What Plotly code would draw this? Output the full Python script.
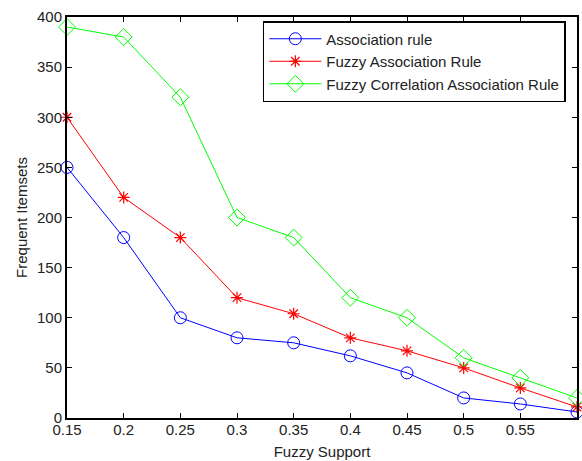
import plotly.graph_objects as go

support = [0.15, 0.2, 0.25, 0.3, 0.35, 0.4, 0.45, 0.5, 0.55, 0.6]
assoc_rule = [250, 180, 100, 80, 75, 62, 45, 20, 14, 6]
fuzzy_assoc = [300, 220, 180, 120, 104, 80, 67, 50, 30, 11]
fuzzy_corr = [390, 380, 320, 200, 180, 120, 100, 60, 40, 20]
x_ticks = [0.15, 0.2, 0.25, 0.3, 0.35, 0.4, 0.45, 0.5, 0.55]
x_tick_labels = ["0.15", "0.2", "0.25", "0.3", "0.35", "0.4", "0.45", "0.5", "0.55"]
y_ticks = [0, 50, 100, 150, 200, 250, 300, 350, 400]

font = "Liberation Sans, Arial, sans-serif"

fig = go.Figure()
fig.add_trace(go.Scatter(x=support, y=assoc_rule, mode="lines+markers", name="Association rule",
                         cliponaxis=False,
                         line=dict(color="#0000ff", width=1),
                         marker=dict(symbol="circle-open", size=12, color="#0000ff", line=dict(width=1))))
fig.add_trace(go.Scatter(x=support, y=fuzzy_assoc, mode="lines+markers", name="Fuzzy Association Rule",
                         cliponaxis=False,
                         line=dict(color="#ff0000", width=1),
                         marker=dict(symbol="asterisk-open", size=10, color="#ff0000", line=dict(width=1.2, color="#ff0000"))))
fig.add_trace(go.Scatter(x=support, y=fuzzy_corr, mode="lines+markers", name="Fuzzy Correlation Association Rule",
                         cliponaxis=False,
                         line=dict(color="#00ff00", width=1),
                         marker=dict(symbol="diamond-open", size=13, color="#00ff00", line=dict(width=1))))

fig.update_layout(
    width=582, height=461,
    margin=dict(l=67, r=5, t=17, b=43),
    paper_bgcolor="white", plot_bgcolor="white",
    font=dict(family=font, size=15, color="#222222"),
    showlegend=True,
    legend=dict(x=0.384, y=0.990, xanchor="left", yanchor="top",
                bgcolor="white", bordercolor="black", borderwidth=1.5,
                font=dict(family=font, size=15, color="#222222"),
                tracegroupgap=0, itemwidth=52),
    xaxis=dict(range=[0.15, 0.6], tickvals=x_ticks, ticktext=x_tick_labels,
               showgrid=False, zeroline=False, showline=True, linecolor="black", linewidth=2,
               mirror="ticks", ticks="inside", ticklen=5, tickwidth=1, tickcolor="black",
               ticklabelstandoff=-3,
               title=dict(text="Fuzzy Support", standoff=9, font=dict(size=15)),
               tickfont=dict(size=15), automargin=False),
    yaxis=dict(range=[0, 400], tickvals=y_ticks,
               showgrid=False, zeroline=False, showline=True, linecolor="black", linewidth=2,
               mirror="ticks", ticks="inside", ticklen=5, tickwidth=1, tickcolor="black",
               title=dict(text="Frequent Itemsets", standoff=6, font=dict(size=15)),
               tickfont=dict(size=15), automargin=False),
)

fig.write_html("out.html", config={"displayModeBar": False},
               post_script="document.body.style.margin='0';document.body.style.overflow='hidden';")
